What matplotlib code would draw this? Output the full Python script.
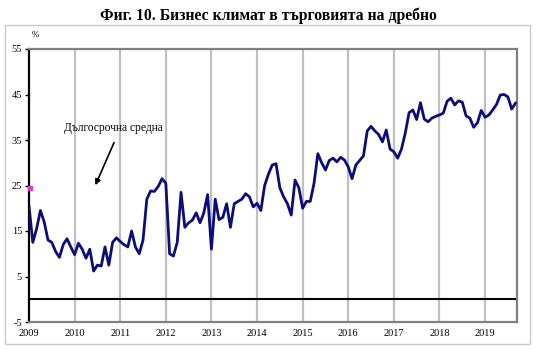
import numpy as np
import matplotlib
matplotlib.use("Agg")
import matplotlib.pyplot as plt
from matplotlib.patches import Rectangle

plt.rcParams['font.family'] = ['Liberation Serif', 'DejaVu Serif']
plt.rcParams['axes.unicode_minus'] = False

# monthly business climate indicator in retail trade, Jan 2009 - Sep 2019 (%)
climate_2009 = [20.5, 12.5, 15.5, 19.5, 17.0, 13.0, 12.5, 10.5, 9.2, 12.0, 13.3, 11.5]
climate_2010 = [9.8, 12.3, 11.0, 9.0, 11.0, 6.2, 7.5, 7.3, 11.5, 7.5, 12.5, 13.5]
climate_2011 = [12.7, 12.0, 11.5, 15.0, 11.5, 10.0, 13.0, 22.0, 23.8, 23.7, 24.8, 26.5]
climate_2012 = [25.5, 10.0, 9.5, 12.5, 23.5, 15.8, 16.8, 17.4, 19.0, 16.8, 19.0, 23.0]
climate_2013 = [11.0, 22.0, 17.5, 18.0, 21.0, 15.8, 21.0, 21.5, 22.0, 23.2, 22.5, 20.3]
climate_2014 = [21.1, 19.5, 25.0, 27.5, 29.5, 29.8, 24.5, 22.5, 21.0, 18.5, 26.2, 24.5]
climate_2015 = [20.0, 21.5, 21.5, 25.5, 32.0, 30.0, 28.4, 30.5, 31.0, 30.2, 31.2, 30.6]
climate_2016 = [29.1, 26.5, 29.5, 30.5, 31.5, 37.0, 38.0, 37.0, 36.2, 34.6, 37.2, 33.0]
climate_2017 = [32.4, 31.0, 33.0, 36.5, 41.0, 41.6, 39.5, 43.2, 39.6, 39.0, 39.8, 40.2]
climate_2018 = [40.5, 40.9, 43.5, 44.2, 42.7, 43.6, 43.3, 40.3, 39.8, 37.8, 38.8, 41.5]
climate_2019 = [40.0, 40.5, 41.6, 42.8, 44.9, 45.0, 44.5, 41.8, 43.1]
long_term_avg = 24.5

years = list(range(2009, 2020))
year_labels = [str(y) for y in years]
y_ticks = [55, 45, 35, 25, 15, 5, -5]

values = np.array(climate_2009 + climate_2010 + climate_2011 + climate_2012 +
                  climate_2013 + climate_2014 + climate_2015 + climate_2016 +
                  climate_2017 + climate_2018 + climate_2019)
t = 2009 + np.arange(len(values)) / 12.0

fig = plt.figure(figsize=(5.36, 3.6), dpi=100)
fig.patches.append(Rectangle((5 / 536, 1 - 344 / 360), 525 / 536, 319 / 360,
                             transform=fig.transFigure, fill=False,
                             edgecolor='#c8c8c8', lw=1.0))
ax = fig.add_axes([29 / 536, 1 - 322 / 360, 488 / 536, 273 / 360])

# year gridlines
for y in years[1:]:
    ax.axvline(y, color='#c0c0c0', lw=1.6, zorder=1)
ax.axhline(0, color='black', lw=1.5, zorder=2)

ax.plot(t, values, color='#0c0c7a', lw=2.0, zorder=3, solid_joinstyle='round')
ax.plot([2009.02], [long_term_avg], marker='s', ms=2.5, color='#e040c0',
        mec='#e040c0', zorder=4, clip_on=False)

ax.set_xlim(2009, 2019.70)
ax.set_ylim(-5, 55)
ax.set_xticks(years)
ax.set_xticklabels(year_labels)
ax.set_yticks(y_ticks)
ax.tick_params(axis='x', length=0, pad=5, labelsize=7.5)
ax.tick_params(axis='y', direction='out', length=3, width=1, pad=2, labelsize=7.5)

for side in ['top', 'right', 'bottom']:
    ax.spines[side].set_color('#808080')
    ax.spines[side].set_linewidth(1.6)
ax.spines['left'].set_color('black')
ax.spines['left'].set_linewidth(1.6)

ax.text(0.005, 1.035, '%', transform=ax.transAxes, fontsize=6.5, ha='left', va='bottom')

ax.annotate('', xy=(2010.43, 24.5), xytext=(2010.89, 35.0),
            arrowprops=dict(arrowstyle='-|>', lw=1.2, color='black', mutation_scale=8))
ax.text(2010.86, 37.6, 'Дългосрочна средна', fontsize=8.3, ha='center', va='center')

fig.text(0.5, 1 - 16 / 360, 'Фиг. 10. Бизнес климат в търговията на дребно',
         fontsize=11.3, fontweight='bold', ha='center', va='center')

fig.savefig('out.png', dpi=100)
